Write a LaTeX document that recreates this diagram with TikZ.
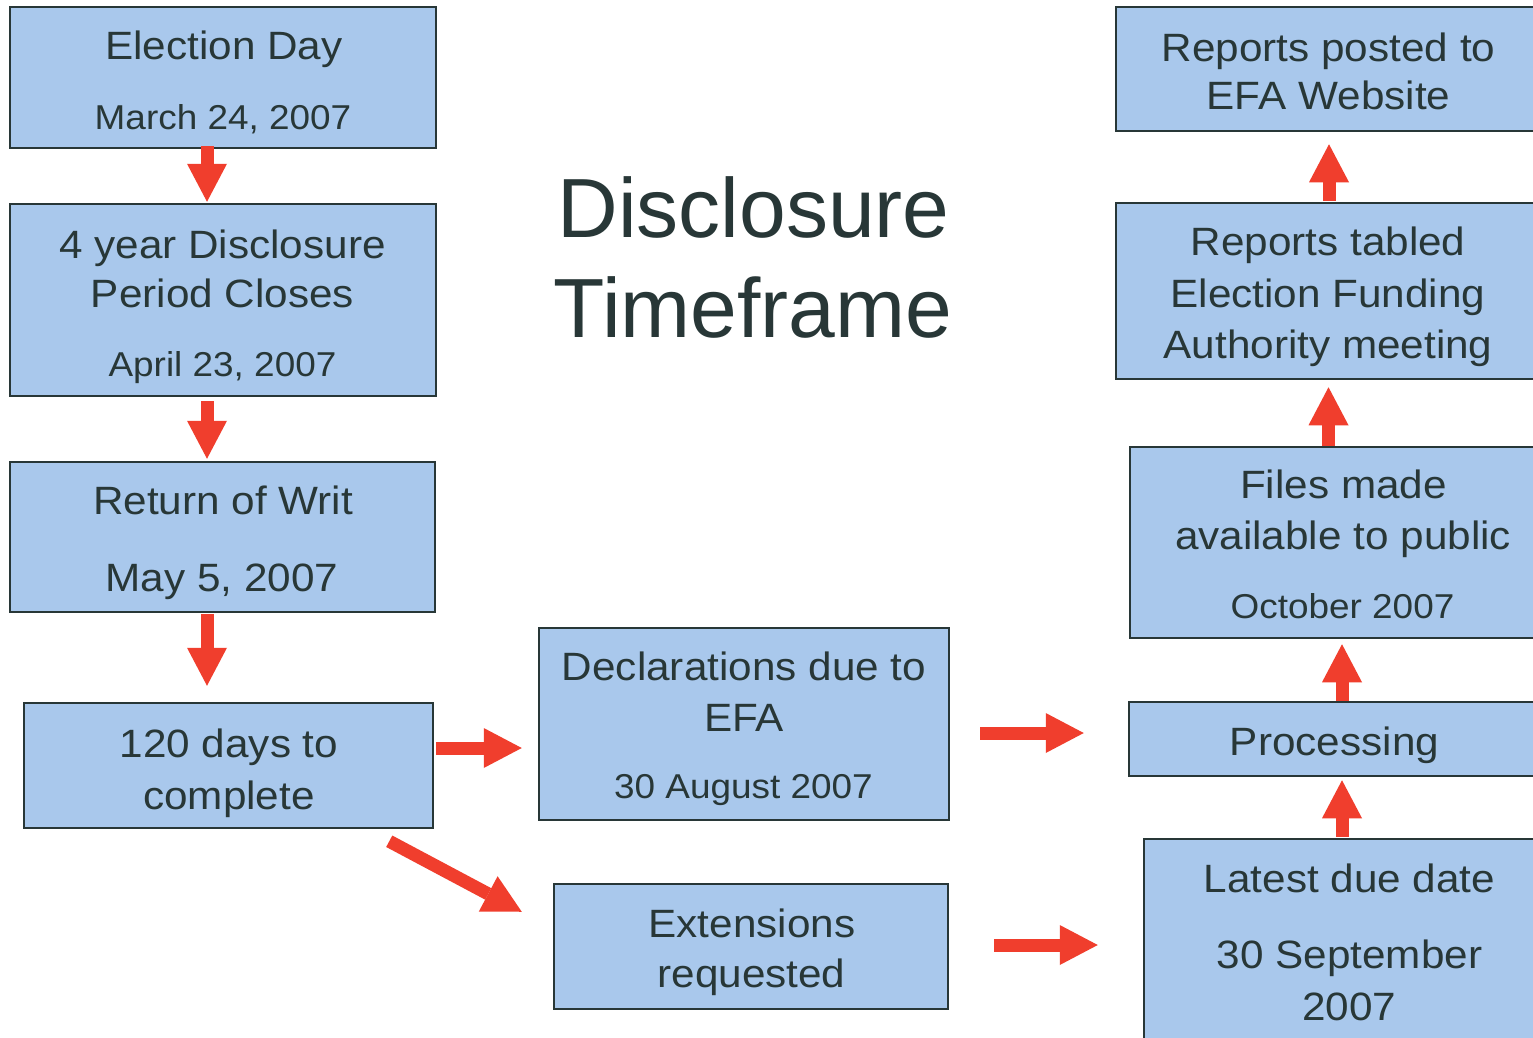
\documentclass[tikz,border=0pt]{standalone}
\usepackage{fontspec}
\setmainfont{Liberation Sans}
\newfontfamily\boxfont[FakeStretch=1.07]{Liberation Sans}
\usetikzlibrary{arrows.meta}
\definecolor{boxfill}{RGB}{169,200,236}
\definecolor{boxline}{RGB}{40,55,55}
\definecolor{txt}{RGB}{40,55,55}
\definecolor{arrred}{RGB}{240,62,45}
\tikzset{
  box/.style={draw=boxline, line width=2.5pt, fill=boxfill, inner sep=0pt},
  lbl/.style={anchor=base, text=txt, inner sep=0pt, font=\boxfont\fontsize{39.5}{47}\selectfont},
  datelbl/.style={lbl, font=\boxfont\fontsize{34.5}{41}\selectfont},
  titlelbl/.style={anchor=base, text=txt, inner sep=0pt, font=\fontsize{84}{100}\selectfont},
  barrow/.style={draw=arrred, line width=13pt, -{Triangle[width=40pt,length=38pt,line width=0pt]}}
}
\begin{document}
\begin{tikzpicture}[x=1pt,y=-1pt]
\useasboundingbox (0,0) rectangle (1533,1038);
\fill[white] (0,0) rectangle (1533,1038);

% left column
\node[box, minimum width=426pt, minimum height=141pt] (e1) at (223,77.5) {};
\node[box, minimum width=426pt, minimum height=192pt] (e2) at (223,300) {};
\node[box, minimum width=425pt, minimum height=150pt] (e3) at (222.5,537) {};
\node[box, minimum width=409pt, minimum height=125pt] (e4) at (228.5,765.5) {};
% middle column
\node[box, minimum width=410pt, minimum height=192pt] (e5) at (744,724) {};
\node[box, minimum width=394pt, minimum height=125pt] (e6) at (751,946.5) {};
% right column
\node[box, minimum width=426pt, minimum height=124pt] (r1) at (1329,69) {};
\node[box, minimum width=426pt, minimum height=176pt] (r2) at (1329,291) {};
\node[box, minimum width=426pt, minimum height=191pt] (r3) at (1343,542.5) {};
\node[box, minimum width=411pt, minimum height=74pt] (r4) at (1334.5,739) {};
\node[box, minimum width=410pt, minimum height=211pt] (r5) at (1349,944.5) {};

% title
\node[titlelbl] (t1) at (753.5,237) {Disclosure};
\node[titlelbl] (t2) at (753,337) {Timeframe};

% labels
\node[lbl] (e1a) at (224,60) {Election Day};
\node[datelbl] (e1b) at (223,129) {March 24, 2007};
\node[lbl] (e2a) at (222.5,258) {4 year Disclosure};
\node[lbl] (e2b) at (222.5,307) {Period Closes};
\node[datelbl] (e2c) at (222.5,376) {April 23, 2007};
\node[lbl] (e3a) at (223,514) {Return of Writ};
\node[lbl] (e3b) at (222,591) {May 5, 2007};
\node[lbl] (e4a) at (229,757) {120 days to};
\node[lbl] (e4b) at (229,809) {complete};
\node[lbl] (e5a) at (744,680) {Declarations due to};
\node[lbl] (e5b) at (744,731) {EFA};
\node[datelbl] (e5c) at (743.5,798) {30 August 2007};
\node[lbl] (e6a) at (752,937) {Extensions};
\node[lbl] (e6b) at (751.5,987) {requested};
\node[lbl] (r1a) at (1328.5,62) {Reports posted to};
\node[lbl] (r1b) at (1328.5,110) {EFA Website};
\node[lbl] (r2a) at (1328,255) {Reports tabled};
\node[lbl] (r2b) at (1328,307) {Election Funding};
\node[lbl] (r2c) at (1328,358) {Authority meeting};
\node[lbl] (r3a) at (1343.5,498) {Files made};
\node[lbl] (r3b) at (1343,549) {available to public};
\node[datelbl] (r3c) at (1342.5,618) {October 2007};
\node[lbl] (r4a) at (1334.5,755) {Processing};
\node[lbl] (r5a) at (1349.5,892) {Latest due date};
\node[lbl] (r5b) at (1349.5,968) {30 September};
\node[lbl] (r5c) at (1349,1020) {2007};

% arrows
\draw[barrow] ([shift={(-16,-3)}]e1.south) -- ([shift={(-16,-1)}]e2.north);
\draw[barrow] ([shift={(-16,4)}]e2.south) -- ([shift={(-15.5,-2)}]e3.north);
\draw[barrow] ([shift={(-15.5,1)}]e3.south) -- ([shift={(-21.5,-16)}]e4.north);
\draw[barrow] ([shift={(2,-17.5)}]e4.east) -- ([shift={(-16,24)}]e5.west);
\draw[barrow] ([shift={(-45,12)}]e4.south east) -- ([shift={(-31,29)}]e6.north west);
\draw[barrow] ([shift={(30,9)}]e5.east) -- ([shift={(-44,-6)}]r4.west);
\draw[barrow] ([shift={(45,-1.5)}]e6.east) -- ([shift={(-45,0.5)}]r5.west);
\draw[barrow] ([shift={(-7,-1)}]r5.north) -- ([shift={(7.5,3)}]r4.south);
\draw[barrow] ([shift={(7.5,0)}]r4.north) -- ([shift={(-1,5)}]r3.south);
\draw[barrow] ([shift={(-14.5,0)}]r3.north) -- ([shift={(-0.5,7)}]r2.south);
\draw[barrow] ([shift={(0,-1)}]r2.north) -- ([shift={(0,12)}]r1.south);
\end{tikzpicture}
\end{document}
